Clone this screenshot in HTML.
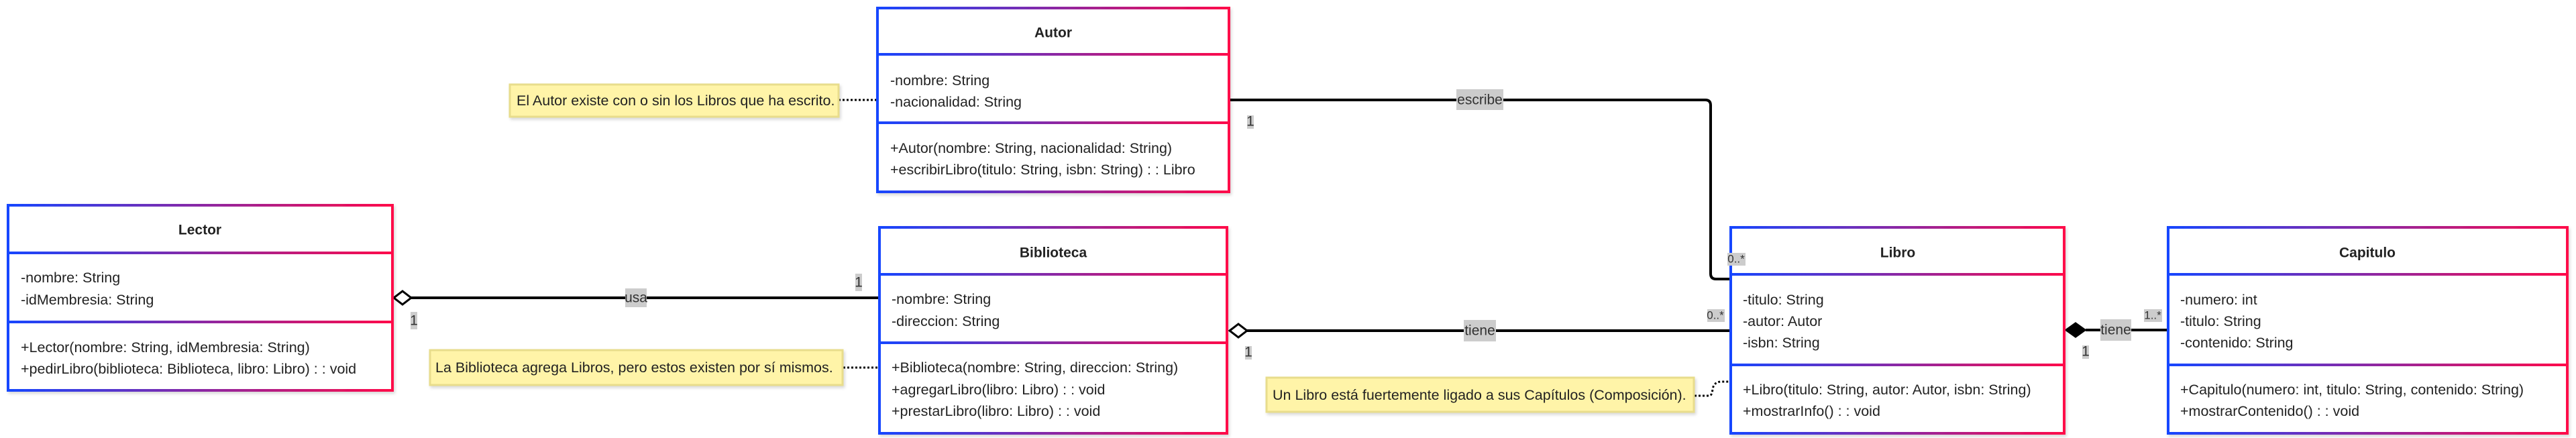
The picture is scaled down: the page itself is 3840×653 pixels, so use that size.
<!DOCTYPE html>
<html><head><meta charset="utf-8"><style>
html,body{margin:0;padding:0;background:#fff;}
svg{display:block;font-family:"Liberation Sans",sans-serif;}
.t{font-size:21.5px;fill:#222;dominant-baseline:central;}
.h{font-size:21px;font-weight:bold;fill:#222;text-anchor:middle;dominant-baseline:central;}
.lb{font-size:21px;fill:#333;dominant-baseline:central;text-anchor:middle;}
.n{font-size:21.5px;fill:#222;dominant-baseline:central;}
</style></head><body>
<svg width="3840" height="653" viewBox="0 0 3840 653" xmlns="http://www.w3.org/2000/svg">
<defs>
<linearGradient id="gL" gradientUnits="userSpaceOnUse" x1="12" x2="585"><stop offset="0" stop-color="#1646ff"/><stop offset="1" stop-color="#ff0a4a"/></linearGradient>
<linearGradient id="gA" gradientUnits="userSpaceOnUse" x1="1308" x2="1832"><stop offset="0" stop-color="#1646ff"/><stop offset="1" stop-color="#ff0a4a"/></linearGradient>
<linearGradient id="gB" gradientUnits="userSpaceOnUse" x1="1311" x2="1829"><stop offset="0" stop-color="#1646ff"/><stop offset="1" stop-color="#ff0a4a"/></linearGradient>
<linearGradient id="gLi" gradientUnits="userSpaceOnUse" x1="2580" x2="3077"><stop offset="0" stop-color="#1646ff"/><stop offset="1" stop-color="#ff0a4a"/></linearGradient>
<linearGradient id="gC" gradientUnits="userSpaceOnUse" x1="3232" x2="3827"><stop offset="0" stop-color="#1646ff"/><stop offset="1" stop-color="#ff0a4a"/></linearGradient>
<filter id="sh" x="-5%" y="-5%" width="110%" height="120%"><feDropShadow dx="2" dy="3" stdDeviation="2" flood-color="#000" flood-opacity="0.15"/></filter>
</defs>

<!-- connectors -->
<g stroke="#000" stroke-width="4" fill="none">
<line x1="613" y1="444" x2="1311" y2="444"/>
<path d="M1832 149 H2542 Q2550 149 2550 157 V408 Q2550 416 2558 416 H2580"/>
<line x1="1859" y1="493" x2="2580" y2="493"/>
<line x1="3109" y1="492" x2="3232" y2="492"/>
</g>
<path d="M587 444 L600 434 L613 444 L600 454 Z" fill="#fff" stroke="#000" stroke-width="3"/>
<path d="M1833 493 L1846 483 L1859 493 L1846 503 Z" fill="#fff" stroke="#000" stroke-width="3"/>
<path d="M3080 492 L3094 482 L3108 492 L3094 502 Z" fill="#000" stroke="#000" stroke-width="3"/>

<!-- dotted note links -->
<g stroke="#000" stroke-width="3" fill="none" stroke-dasharray="3 3">
<line x1="1250" y1="149" x2="1308" y2="149"/>
<line x1="1257" y1="548" x2="1311" y2="548"/>
<path d="M2526 590 H2548 Q2552 590 2553 580 Q2555 569 2566 569 H2580"/>
</g>

<!-- connector labels -->
<g>
<rect x="932" y="430" width="32" height="28" fill="#ccc"/><text class="lb" x="948" y="444">usa</text>
<rect x="612" y="465" width="10" height="26" fill="#ccc"/><text class="lb" x="617" y="478">1</text>
<rect x="1275" y="408" width="10" height="26" fill="#ccc"/><text class="lb" x="1280" y="421">1</text>
<rect x="2171" y="133" width="70" height="31" fill="#ccc"/><text class="lb" x="2206" y="149">escribe</text>
<rect x="1859" y="172" width="10" height="20" fill="#ccc"/><text class="lb" x="1864" y="181">1</text>
<rect x="2182" y="477" width="48" height="32" fill="#ccc"/><text class="lb" x="2206" y="493">tiene</text>
<rect x="1856" y="516" width="10" height="20" fill="#ccc"/><text class="lb" x="1861" y="525">1</text>
<rect x="2545" y="461" width="26" height="19" fill="#ccc"/><text class="lb" x="2557" y="470" style="font-size:17px">0..*</text>
<rect x="3131" y="476" width="46" height="32" fill="#ccc"/><text class="lb" x="3154" y="492">tiene</text>
<rect x="3196" y="461" width="27" height="19" fill="#ccc"/><text class="lb" x="3209" y="470" style="font-size:17px">1..*</text>
<rect x="3104" y="515" width="10" height="20" fill="#ccc"/><text class="lb" x="3109" y="524">1</text>
</g>

<!-- notes -->
<g filter="url(#sh)">
<rect x="760" y="126" width="490" height="48" fill="#fff4a8" stroke="#e8dd8c" stroke-width="3"/>
<rect x="641" y="522" width="615" height="52" fill="#fff4a8" stroke="#e8dd8c" stroke-width="3"/>
<rect x="1888" y="563" width="637" height="51" fill="#fff4a8" stroke="#e8dd8c" stroke-width="3"/>
</g>
<text class="n" x="770" y="150">El Autor existe con o sin los Libros que ha escrito.</text>
<text class="n" x="649" y="548">La Biblioteca agrega Libros, pero estos existen por sí mismos.</text>
<text class="n" x="1897" y="589">Un Libro está fuertemente ligado a sus Capítulos (Composición).</text>

<!-- Lector -->
<g filter="url(#sh)"><rect x="12" y="306" width="573" height="276" fill="#fff" stroke="url(#gL)" stroke-width="4"/></g>
<line x1="12" y1="377" x2="585" y2="377" stroke="url(#gL)" stroke-width="4"/>
<line x1="12" y1="480" x2="585" y2="480" stroke="url(#gL)" stroke-width="4"/>
<text class="h" x="298" y="343">Lector</text>
<text class="t" x="31" y="414">-nombre: String</text>
<text class="t" x="31" y="447">-idMembresia: String</text>
<text class="t" x="31" y="518">+Lector(nombre: String, idMembresia: String)</text>
<text class="t" x="31" y="550">+pedirLibro(biblioteca: Biblioteca, libro: Libro) : : void</text>

<!-- Autor -->
<g filter="url(#sh)"><rect x="1308" y="12" width="524" height="274" fill="#fff" stroke="url(#gA)" stroke-width="4"/></g>
<line x1="1308" y1="81" x2="1832" y2="81" stroke="url(#gA)" stroke-width="4"/>
<line x1="1308" y1="183" x2="1832" y2="183" stroke="url(#gA)" stroke-width="4"/>
<text class="h" x="1570" y="49">Autor</text>
<text class="t" x="1327" y="120">-nombre: String</text>
<text class="t" x="1327" y="152">-nacionalidad: String</text>
<text class="t" x="1327" y="221">+Autor(nombre: String, nacionalidad: String)</text>
<text class="t" x="1327" y="253">+escribirLibro(titulo: String, isbn: String) : : Libro</text>

<!-- Biblioteca -->
<g filter="url(#sh)"><rect x="1311" y="339" width="518" height="307" fill="#fff" stroke="url(#gB)" stroke-width="4"/></g>
<line x1="1311" y1="409" x2="1829" y2="409" stroke="url(#gB)" stroke-width="4"/>
<line x1="1311" y1="511" x2="1829" y2="511" stroke="url(#gB)" stroke-width="4"/>
<text class="h" x="1570" y="377">Biblioteca</text>
<text class="t" x="1329" y="446">-nombre: String</text>
<text class="t" x="1329" y="479">-direccion: String</text>
<text class="t" x="1329" y="548">+Biblioteca(nombre: String, direccion: String)</text>
<text class="t" x="1329" y="581">+agregarLibro(libro: Libro) : : void</text>
<text class="t" x="1329" y="613">+prestarLibro(libro: Libro) : : void</text>

<!-- Libro -->
<g filter="url(#sh)"><rect x="2580" y="339" width="497" height="307" fill="#fff" stroke="url(#gLi)" stroke-width="4"/></g>
<line x1="2580" y1="409" x2="3077" y2="409" stroke="url(#gLi)" stroke-width="4"/>
<line x1="2580" y1="544" x2="3077" y2="544" stroke="url(#gLi)" stroke-width="4"/>
<text class="h" x="2829" y="377">Libro</text>
<text class="t" x="2598" y="447">-titulo: String</text>
<text class="t" x="2598" y="479">-autor: Autor</text>
<text class="t" x="2598" y="511">-isbn: String</text>
<text class="t" x="2598" y="581">+Libro(titulo: String, autor: Autor, isbn: String)</text>
<text class="t" x="2598" y="613">+mostrarInfo() : : void</text>
<rect x="2575" y="377" width="27" height="19" fill="#ccc"/><text class="lb" x="2588" y="386" style="font-size:17px">0..*</text>

<!-- Capitulo -->
<g filter="url(#sh)"><rect x="3232" y="339" width="595" height="307" fill="#fff" stroke="url(#gC)" stroke-width="4"/></g>
<line x1="3232" y1="409" x2="3827" y2="409" stroke="url(#gC)" stroke-width="4"/>
<line x1="3232" y1="544" x2="3827" y2="544" stroke="url(#gC)" stroke-width="4"/>
<text class="h" x="3529" y="377">Capitulo</text>
<text class="t" x="3250" y="447">-numero: int</text>
<text class="t" x="3250" y="479">-titulo: String</text>
<text class="t" x="3250" y="511">-contenido: String</text>
<text class="t" x="3250" y="581">+Capitulo(numero: int, titulo: String, contenido: String)</text>
<text class="t" x="3250" y="613">+mostrarContenido() : : void</text>
</svg>
</body></html>
